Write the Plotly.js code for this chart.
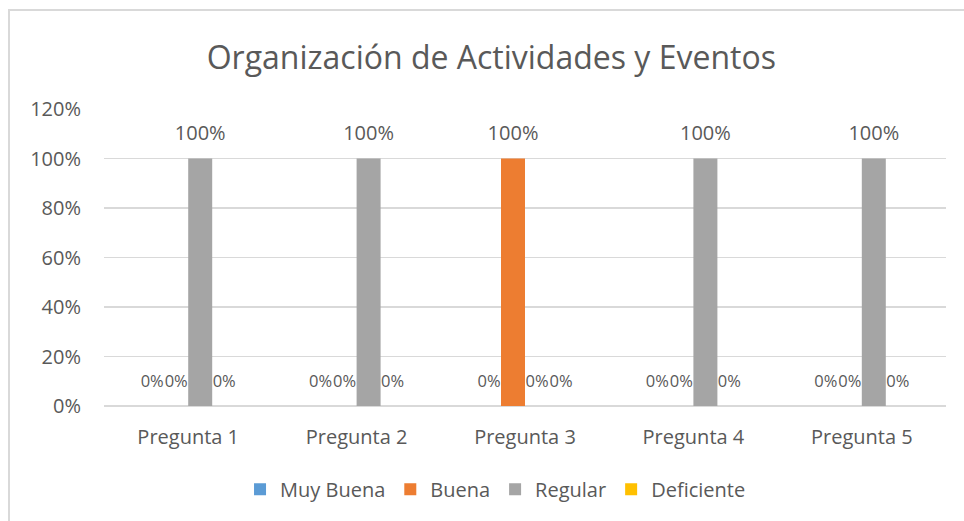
<!DOCTYPE html>
<html>
<head>
<meta charset="utf-8">
<script src="https://cdn.plot.ly/plotly-3.0.1.min.js"></script>
<style>
  html, body { margin: 0; padding: 0; background: #fff; }
  #wrap { position: relative; width: 964px; height: 521px; overflow: hidden; }
  #frame { position: absolute; left: 8px; top: 9px; width: 1000px; height: 600px;
           border-left: 2px solid #D9D9D9; border-top: 2px solid #D9D9D9; box-sizing: border-box; }
  #chart { position: absolute; left: 0; top: 0; width: 964px; height: 521px; }
</style>
</head>
<body>
<div id="wrap">
  <div id="frame"></div>
  <div id="chart"></div>
</div>
<script>
const categories = ["Pregunta 1", "Pregunta 2", "Pregunta 3", "Pregunta 4", "Pregunta 5"];
const seriesNames = ["Muy Buena", "Buena", "Regular", "Deficiente"];
const muyBuena   = [0, 0, 0, 0, 0];
const buena      = [0, 0, 1, 0, 0];
const regular    = [1, 1, 0, 1, 1];
const deficiente = [0, 0, 0, 0, 0];
const yTickVals  = [0, 0.2, 0.4, 0.6, 0.8, 1.0, 1.2];
const yTickText  = ["0%", "20%", "40%", "60%", "80%", "100%", "120%"];
const colors = ["#5B9BD5", "#ED7D31", "#A5A5A5", "#FFC000"];

const FONT = "Open Sans, Noto Sans, sans-serif";
const TXT = "#595959";
const allSeries = [muyBuena, buena, regular, deficiente];

// short labels ("0%") sit side by side over thin bars: slightly smaller so they only touch
const labelTemplate = v => "<span style='font-size:" + (v > 0 ? 20 : 16.5) + "px'>%{y:.0%}</span><br> ";

const traces = allSeries.map((vals, i) => ({
  type: "bar",
  name: seriesNames[i],
  x: categories,
  y: vals,
  marker: { color: colors[i] },
  texttemplate: vals.map(labelTemplate),
  textposition: "outside",
  constraintext: "none",
  cliponaxis: false,
  textfont: { family: FONT, size: 10, color: TXT },
  hoverinfo: "none"
}));

const layout = {
  width: 964, height: 521,
  margin: { l: 104, r: 18, t: 109, b: 115 },
  paper_bgcolor: "rgba(0,0,0,0)",
  plot_bgcolor: "rgba(0,0,0,0)",
  font: { family: FONT, color: TXT },
  title: {
    text: "Organización de Actividades y Eventos",
    font: { family: FONT, size: 32, color: TXT },
    x: 0.46, xref: "paper", xanchor: "center",
    y: 0.89, yref: "container", yanchor: "middle"
  },
  barmode: "group",
  bargap: 0.43,
  bargroupgap: 0,
  xaxis: {
    type: "category",
    tickfont: { family: FONT, size: 20, color: TXT },
    showline: false, showgrid: false, ticks: "", ticklen: 0,
    ticklabelstandoff: 17,
    fixedrange: true
  },
  yaxis: {
    range: [0, 1.2],
    tickvals: yTickVals,
    ticktext: yTickText,
    tickfont: { family: FONT, size: 20, color: TXT },
    showgrid: true, gridcolor: "#D9D9D9", gridwidth: 1.5,
    zeroline: true, zerolinecolor: "#D9D9D9", zerolinewidth: 1.5,
    showline: false, ticks: "", ticklabelstandoff: 22,
    fixedrange: true
  },
  showlegend: true,
  legend: {
    orientation: "h",
    x: 0.465, xanchor: "center",
    y: -0.28, yanchor: "middle",
    font: { family: FONT, size: 20, color: TXT },
    itemwidth: 30,
    traceorder: "normal"
  }
};

Plotly.newPlot("chart", traces, layout, { displayModeBar: false, staticPlot: true });
</script>
</body>
</html>
